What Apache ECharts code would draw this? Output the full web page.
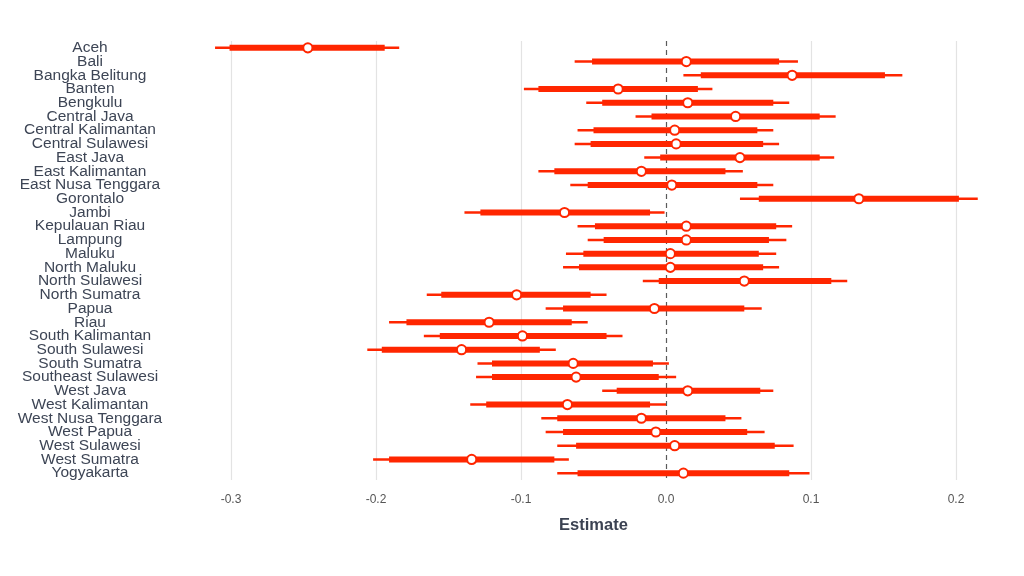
<!DOCTYPE html>
<html>
<head>
<meta charset="utf-8">
<style>
  html, body { margin: 0; padding: 0; background: #ffffff; }
  #chart { width: 1024px; height: 576px; }
</style>
<script src="https://cdn.jsdelivr.net/npm/echarts@6/dist/echarts.min.js"></script>
</head>
<body>
<div id="chart"></div>
<script>
const categories = ["Aceh","Bali","Bangka Belitung","Banten","Bengkulu","Central Java","Central Kalimantan","Central Sulawesi","East Java","East Kalimantan","East Nusa Tenggara","Gorontalo","Jambi","Kepulauan Riau","Lampung","Maluku","North Maluku","North Sulawesi","North Sumatra","Papua","Riau","South Kalimantan","South Sulawesi","South Sumatra","Southeast Sulawesi","West Java","West Kalimantan","West Nusa Tenggara","West Papua","West Sulawesi","West Sumatra","Yogyakarta"];
const outerLow  = [-0.311,-0.063,0.012,-0.098,-0.055,-0.021,-0.061,-0.063,-0.015,-0.088,-0.066,0.051,-0.139,-0.061,-0.054,-0.069,-0.071,-0.016,-0.165,-0.083,-0.191,-0.167,-0.206,-0.130,-0.131,-0.044,-0.135,-0.086,-0.083,-0.075,-0.202,-0.075];
const innerLow  = [-0.301,-0.051,0.024,-0.088,-0.044,-0.010,-0.050,-0.052,-0.004,-0.077,-0.054,0.064,-0.128,-0.049,-0.043,-0.057,-0.060,-0.005,-0.155,-0.071,-0.179,-0.156,-0.196,-0.120,-0.120,-0.034,-0.124,-0.075,-0.071,-0.062,-0.191,-0.061];
const estimate  = [-0.247,0.014,0.087,-0.033,0.015,0.048,0.006,0.007,0.051,-0.017,0.004,0.133,-0.070,0.014,0.014,0.003,0.003,0.054,-0.103,-0.008,-0.122,-0.099,-0.141,-0.064,-0.062,0.015,-0.068,-0.017,-0.007,0.006,-0.134,0.012];
const innerHigh = [-0.194,0.078,0.151,0.022,0.074,0.106,0.063,0.067,0.106,0.041,0.063,0.202,-0.011,0.076,0.071,0.064,0.067,0.114,-0.052,0.054,-0.065,-0.041,-0.087,-0.009,-0.005,0.065,-0.011,0.041,0.056,0.075,-0.077,0.085];
const outerHigh = [-0.184,0.091,0.163,0.032,0.085,0.117,0.074,0.078,0.116,0.053,0.074,0.215,-0.001,0.087,0.083,0.076,0.078,0.125,-0.041,0.066,-0.054,-0.030,-0.076,0.002,0.007,0.074,0.000,0.052,0.068,0.088,-0.067,0.099];
const xTicks = [-0.3,-0.2,-0.1,0.0,0.1,0.2];

const RED = '#ff2600';
const data = categories.map((c, i) => [outerLow[i], innerLow[i], estimate[i], innerHigh[i], outerHigh[i], i]);

const chart = echarts.init(document.getElementById('chart'), null, {renderer: 'canvas'});
chart.setOption({
  animation: false,
  backgroundColor: '#ffffff',
  grid: { left: 202, right: 39, top: 41, height: 439, containLabel: false },
  xAxis: {
    type: 'value',
    min: -0.32,
    max: 0.22,
    name: 'Estimate',
    nameLocation: 'middle',
    nameGap: 37,
    nameTextStyle: { fontFamily: 'Liberation Sans, Arial, sans-serif', fontSize: 16.5, fontWeight: 'bold', color: '#3b4252' },
    axisLine: { show: false },
    axisTick: { show: false },
    splitLine: { show: false },
    axisLabel: {
      customValues: xTicks,
      margin: 14,
      fontFamily: 'Liberation Sans, Arial, sans-serif',
      fontSize: 12,
      color: '#555555',
      formatter: v => v.toFixed(1)
    }
  },
  yAxis: {
    type: 'category',
    data: categories,
    inverse: true,
    axisLine: { show: false },
    axisTick: { show: false },
    splitLine: { show: false },
    axisLabel: {
      align: 'center',
      margin: 112,
      padding: [3, 0, 0, 0],
      fontFamily: 'Liberation Sans, Arial, sans-serif',
      fontSize: 15.5,
      color: '#3d4555',
      interval: 0
    }
  },
  series: [
    {
      type: 'line',
      data: [],
      z: 1,
      silent: true,
      markLine: {
        silent: true,
        symbol: ['none', 'none'],
        label: { show: false },
        animation: false,
        data: xTicks.map(v => ({
          xAxis: v,
          lineStyle: v === 0
            ? { color: '#5a5a5a', width: 1.2, type: [5, 4] }
            : { color: '#e3e3e3', width: 1.2, type: 'solid' }
        }))
      }
    },
    {
      type: 'custom',
      z: 5,
      data: data,
      encode: { x: [0, 1, 2, 3, 4], y: 5 },
      renderItem: function (params, api) {
        const y = api.value(5);
        const o1 = api.coord([api.value(0), y]);
        const i1 = api.coord([api.value(1), y]);
        const e = api.coord([api.value(2), y]);
        const i2 = api.coord([api.value(3), y]);
        const o2 = api.coord([api.value(4), y]);
        return {
          type: 'group',
          children: [
            { type: 'line', shape: { x1: o1[0], y1: o1[1], x2: o2[0], y2: o2[1] }, style: { stroke: RED, lineWidth: 2.5 } },
            { type: 'line', shape: { x1: i1[0], y1: i1[1], x2: i2[0], y2: i2[1] }, style: { stroke: RED, lineWidth: 6 } },
            { type: 'circle', shape: { cx: e[0], cy: e[1], r: 4.6 }, style: { fill: '#ffffff', stroke: RED, lineWidth: 2 } }
          ]
        };
      }
    }
  ]
});
</script>
</body>
</html>
